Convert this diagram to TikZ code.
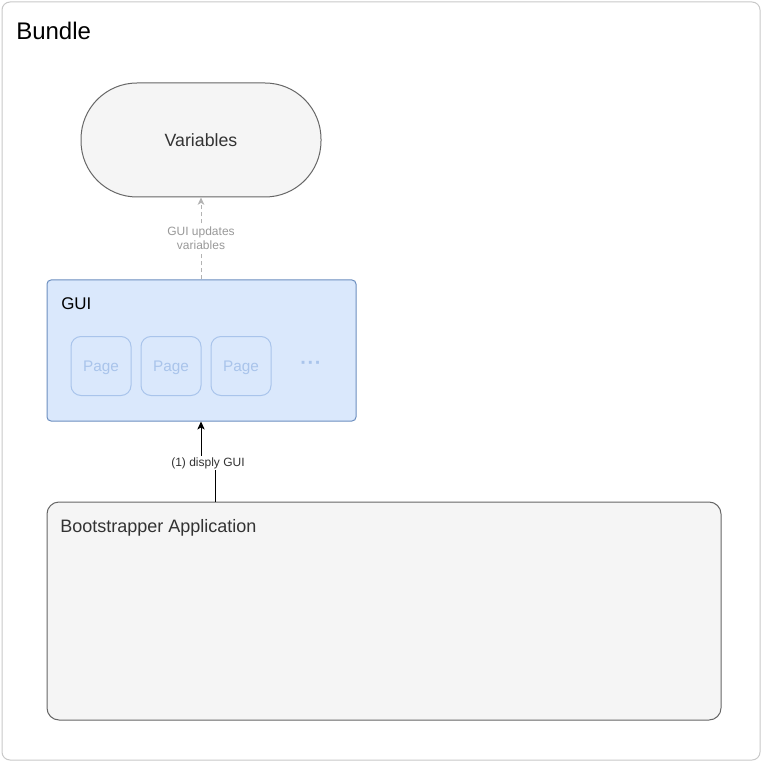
\documentclass[tikz,border=0pt]{standalone}
\usepackage{fontspec}
\setmainfont{Liberation Sans}
\usetikzlibrary{arrows.meta}
\definecolor{outerc}{HTML}{C8C8C8}
\definecolor{greyfill}{HTML}{F5F5F5}
\definecolor{greystroke}{HTML}{666666}
\definecolor{darktext}{HTML}{333333}
\definecolor{bluefill}{HTML}{DAE8FC}
\definecolor{bluestroke}{HTML}{6C8EBF}
\definecolor{paleblue}{HTML}{A9C4EB}
\definecolor{dashgrey}{HTML}{B3B3B3}
\definecolor{labelgrey}{HTML}{999999}
\tikzset{
  px/.style={x=0.75pt,y=-0.75pt},
  greybox/.style={draw=greystroke,fill=greyfill,line width=0.75pt,inner sep=0pt},
  pagebox/.style={draw=paleblue,fill=bluefill,line width=0.75pt,rounded corners=7.5pt,
    minimum width=45pt,minimum height=44.25pt,inner sep=0pt,text=paleblue,
    font=\fontsize{11.5pt}{13pt}\selectfont,text depth=0pt},
  smalllabel/.style={font=\fontsize{9pt}{10.5pt}\selectfont,align=center,fill=white,inner sep=1pt},
}
\begin{document}
\begin{tikzpicture}[px]
\useasboundingbox (0,0) rectangle (762,762);
% outer bundle container
\node[draw=outerc,line width=0.75pt,rounded corners=6pt,minimum width=568.5pt,minimum height=568.5pt,inner sep=0pt] (bundle) at (381,381) {};
\node[anchor=base west,inner sep=0pt,font=\fontsize{18pt}{21pt}\selectfont] (bundlelbl) at (16,40) {Bundle};
% variables
\node[greybox,rounded corners=42pt,minimum width=180pt,minimum height=85.5pt,text=darktext,
  font=\fontsize{13.3pt}{16pt}\selectfont] (var) at (201,140) {Variables};
% GUI
\node[draw=bluestroke,fill=bluefill,line width=0.75pt,rounded corners=3pt,minimum width=231.75pt,minimum height=105.75pt,inner sep=0pt] (gui) at (201.5,350.5) {};
\node[anchor=base west,inner sep=0pt,font=\fontsize{12.7pt}{15pt}\selectfont] (guilbl) at (61,310) {GUI};
\node[pagebox] (p1) at (101,366) {Page};
\node[pagebox] (p2) at (171,366) {Page};
\node[pagebox] (p3) at (241,366) {Page};
\node[text=paleblue,inner sep=0pt,font=\bfseries\fontsize{15pt}{17pt}\selectfont] (dots) at (311,365) {·\kern0.5pt·\kern0.5pt·};
% bootstrapper
\node[greybox,rounded corners=9pt,minimum width=505.5pt,minimum height=163.5pt] (boot) at (384,611) {};
\node[anchor=base west,inner sep=0pt,text=darktext,font=\fontsize{13.5pt}{16pt}\selectfont] (bootlbl) at (60,532) {Bootstrapper Application};
% connectors
\draw[dashgrey,dashed,dash pattern=on 3pt off 2.25pt,line width=0.75pt,-{Stealth[length=5.5pt,width=5pt,inset=1.5pt]}] (gui.north -| var.south) -- (var.south);
\node[smalllabel,text=labelgrey] (updlbl) at (201,238.5) {GUI updates\\variables};
\coordinate (start) at (215,502);
\coordinate (jog) at (208,463);
\draw[black,line width=0.75pt,-{Stealth[length=6pt,width=5.5pt,inset=1.5pt]}] (start) |- (jog) -| (gui.south -| var.south);
\node[smalllabel,text=darktext] (displbl) at (jog) {(1) disply GUI};
\end{tikzpicture}
\end{document}
